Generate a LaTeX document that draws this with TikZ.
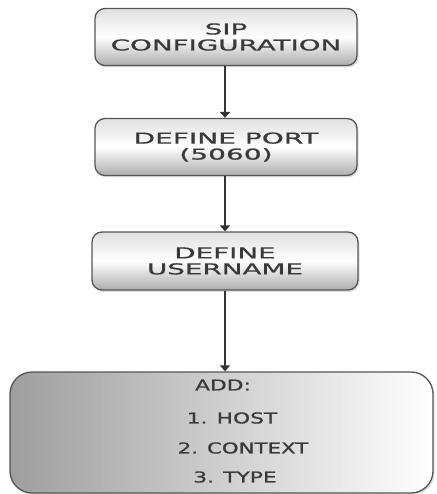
\documentclass[tikz,border=0pt]{standalone}
\usepackage{fontspec}
\setmainfont{DejaVu Sans}
\newfontfamily\medfont{DejaVu Sans}[FakeBold=0.6]
\usetikzlibrary{arrows.meta,shadows}
\definecolor{txt}{HTML}{3A3A3A}
\definecolor{edge}{HTML}{555555}
\tikzset{
  stepbox/.style={draw=edge, line width=1.3pt, rounded corners=10pt,
    minimum width=262pt, minimum height=57pt, inner sep=0pt,
    top color=black!12, bottom color=black!32, middle color=white,
    drop shadow={opacity=0.25, shadow xshift=1.5pt, shadow yshift=-2pt},
    text=txt, font=\fontsize{15}{17}\medfont, align=center},
  bigbox/.style={draw=edge, line width=1.3pt, rounded corners=22pt,
    minimum width=423pt, minimum height=121pt, inner sep=0pt,
    left color=black!38, right color=white,
    drop shadow={opacity=0.25, shadow xshift=1.5pt, shadow yshift=-2pt}},
  lbl/.style={text=txt, font=\fontsize{15}{17}\medfont, inner sep=0pt},
  flow/.style={draw=black!80, line width=1.5pt, -{Triangle[width=10pt,length=6pt]}}
}
\newcommand{\wide}[2]{\scalebox{#1}[1]{#2}}
\begin{document}
\begin{tikzpicture}[x=1pt,y=-1pt]
\useasboundingbox (0,0) rectangle (436,494);
\node[stepbox] (b1) at (226,37) {\wide{1.85}{SIP}\\[-1pt]\wide{1.85}{CONFIGURATION}};
\node[stepbox] (b2) at (226,147) {\wide{1.87}{DEFINE PORT}\\[-1pt]\wide{1.87}{(5060)}};
\node[stepbox,minimum width=266pt,minimum height=58pt] (b3) at (225,261) {\wide{1.85}{DEFINE}\\[-1pt]\wide{1.85}{USERNAME}};
\node[bigbox] (b4) at (221.5,432.5) {};
\node[lbl] (t0) at (223,385) {\wide{1.45}{ADD:}};
\node[lbl] (t1) at (232,418) {\wide{1.45}{1. HOST}};
\node[lbl] (t2) at (243,448) {\wide{1.42}{2. CONTEXT}};
\node[lbl] (t3) at (235,477) {\wide{1.45}{3. TYPE}};
\draw[flow] (b1.south -| 225,0) -- (b2.north -| 225,0);
\draw[flow] (b2.south -| 225,0) -- (b3.north -| 225,0);
\draw[flow] (b3.south -| 225,0) -- (b4.north -| 225,0);
\end{tikzpicture}
\end{document}
